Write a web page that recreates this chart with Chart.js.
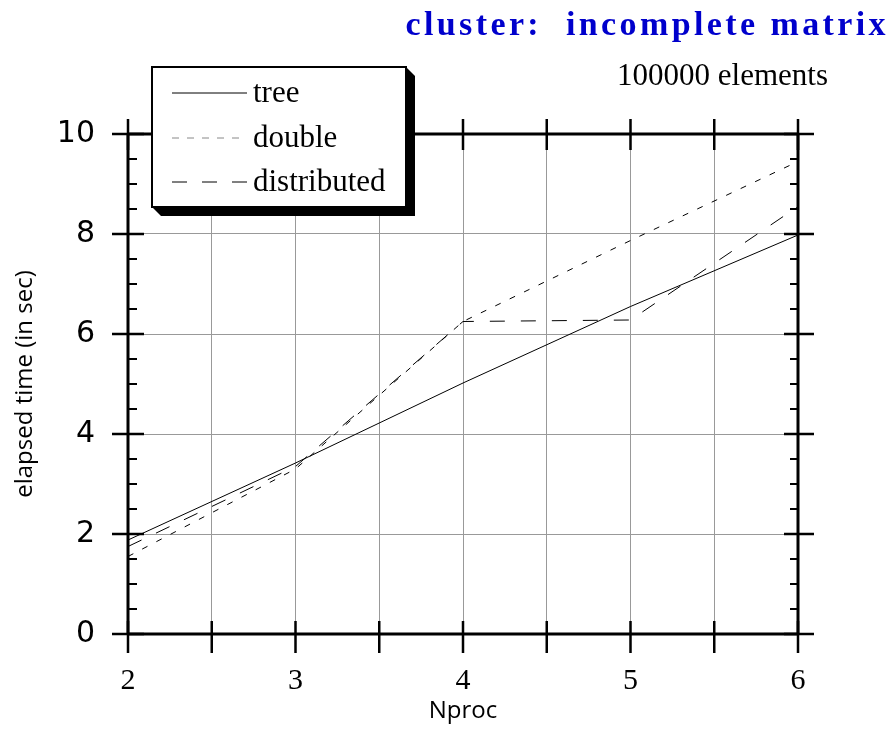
<!DOCTYPE html>
<html>
<head>
<meta charset="utf-8">
<script src="https://cdn.jsdelivr.net/npm/chart.js@4.4.1/dist/chart.umd.min.js"></script>
<style>
  html, body { margin: 0; padding: 0; background: #fff; }
  #wrap { width: 891px; height: 729px; }
</style>
</head>
<body>
<div id="wrap"><canvas id="timing" width="891" height="729"></canvas></div>
<script>
// Elapsed time per number of processors
const nproc = [2, 3, 4, 5, 6];
const treeTimes = [1.88, 3.42, 5.02, 6.55, 7.98];
const doubleTimes = [1.55, 3.3, 6.25, 7.87, 9.45];
const distributedTimes = [1.75, 3.35, 6.25, 6.28, 8.55];

const yTicks = [0, 2, 4, 6, 8, 10];
const xTicks = [2, 3, 4, 5, 6];

const seriesNames = ["tree", "double", "distributed"];
const seriesDash = [[], [6, 10], [15, 16]];

const titleText = "cluster:  incomplete matrix";
const subtitleText = "100000 elements";

const toPoints = (ys) => nproc.map((x, i) => ({ x: x, y: ys[i] }));

// Frame, tick marks, legend box and heading text
const decorations = {
  id: "decorations",
  afterDraw(chart) {
    const ctx = chart.ctx;
    const { left, right, top, bottom } = chart.chartArea;
    const xs = chart.scales.x;
    const ys = chart.scales.y;
    ctx.save();
    ctx.strokeStyle = "#000";
    ctx.lineCap = "butt";

    // frame
    ctx.lineWidth = 3;
    ctx.beginPath();
    ctx.moveTo(left, top);
    ctx.lineTo(right, top);
    ctx.moveTo(left, bottom);
    ctx.lineTo(right, bottom);
    ctx.moveTo(left, top - 1);
    ctx.lineTo(left, bottom + 1);
    ctx.moveTo(right, top - 1);
    ctx.lineTo(right, bottom + 1);
    ctx.stroke();

    // y ticks every 0.5, long ones on the labelled values
    for (let v = 0; v <= 10; v += 0.5) {
      const py = ys.getPixelForValue(v);
      const major = v % 2 === 0;
      ctx.lineWidth = major ? 2.5 : 2;
      ctx.beginPath();
      if (major) {
        ctx.moveTo(left - 16, py);
        ctx.lineTo(left + 16, py);
        ctx.moveTo(right - 14, py);
        ctx.lineTo(right + 16, py);
      } else {
        ctx.moveTo(left, py);
        ctx.lineTo(left + 9, py);
        ctx.moveTo(right - 8, py);
        ctx.lineTo(right, py);
      }
      ctx.stroke();
    }

    // x ticks every 0.5 on top and bottom
    ctx.lineWidth = 2.5;
    for (let v = 2; v <= 6; v += 0.5) {
      const px = xs.getPixelForValue(v);
      ctx.beginPath();
      ctx.moveTo(px, bottom - 13);
      ctx.lineTo(px, bottom + 19);
      ctx.moveTo(px, top - 15);
      ctx.lineTo(px, top + 16);
      ctx.stroke();
    }

    // legend box with shadow
    const bx0 = 152, by0 = 67, bx1 = 406, by1 = 207, sh = 9;
    ctx.fillStyle = "#000";
    ctx.beginPath();
    ctx.moveTo(bx1, by0);
    ctx.lineTo(bx1 + sh, by0 + sh);
    ctx.lineTo(bx1 + sh, by1 + sh);
    ctx.lineTo(bx0 + sh, by1 + sh);
    ctx.lineTo(bx0, by1);
    ctx.closePath();
    ctx.fill();
    ctx.fillStyle = "#fff";
    ctx.fillRect(bx0, by0, bx1 - bx0, by1 - by0);
    ctx.lineWidth = 2;
    ctx.strokeRect(bx0, by0, bx1 - bx0, by1 - by0);

    const rows = [93, 138, 182];
    ctx.font = "31px 'Liberation Serif'";
    ctx.textBaseline = "middle";
    ctx.textAlign = "left";
    seriesNames.forEach((name, i) => {
      ctx.beginPath();
      ctx.lineWidth = 1;
      ctx.strokeStyle = i === 1 ? "#888" : "#000";
      ctx.setLineDash(i === 1 ? [7, 8] : seriesDash[i].length ? [15, 15] : []);
      ctx.moveTo(172, rows[i]);
      ctx.lineTo(247, rows[i]);
      ctx.stroke();
      ctx.setLineDash([]);
      ctx.fillStyle = "#000";
      ctx.fillText(name, 253, rows[i] + 1);
    });

    // heading
    ctx.textBaseline = "alphabetic";
    ctx.textAlign = "right";
    ctx.fillStyle = "#0000cc";
    ctx.font = "bold 34px 'Liberation Serif'";
    ctx.letterSpacing = "3.4px";
    ctx.fillText(titleText, 889, 35);
    ctx.letterSpacing = "0px";
    ctx.fillStyle = "#000";
    ctx.font = "31px 'Liberation Serif'";
    ctx.fillText(subtitleText, 828, 85);
    ctx.restore();
  },
};

new Chart(document.getElementById("timing"), {
  type: "line",
  data: {
    datasets: [treeTimes, doubleTimes, distributedTimes].map((ys, i) => ({
      label: seriesNames[i],
      data: toPoints(ys),
      borderColor: "#000",
      borderWidth: 1,
      borderDash: seriesDash[i],
      pointRadius: 0,
      fill: false,
      tension: 0,
    })),
  },
  options: {
    responsive: false,
    animation: false,
    layout: {
      padding: { top: 134, right: 93, left: 0, bottom: 0 },
    },
    plugins: {
      legend: { display: false },
      tooltip: { enabled: false },
    },
    scales: {
      x: {
        type: "linear",
        min: 2,
        max: 6,
        afterFit: (scale) => {
          scale.height = 95;
        },
        border: { display: false },
        grid: {
          drawTicks: false,
          color: (c) =>
            c.tick && (c.tick.value === 2 || c.tick.value === 6) ? "rgba(0,0,0,0)" : "#999",
          lineWidth: 1,
        },
        ticks: {
          stepSize: 0.5,
          padding: 29,
          color: "#000",
          font: { family: "'Liberation Serif'", size: 30 },
          maxRotation: 0,
          autoSkip: false,
          callback: (v) => (xTicks.includes(v) ? String(v) : ""),
        },
        title: {
          display: true,
          text: "Nproc",
          color: "#000",
          font: { family: "'Open Sans'", size: 24 },
          padding: { top: 0, bottom: 3 },
        },
      },
      y: {
        min: 0,
        max: 10,
        afterFit: (scale) => {
          scale.width = 128;
        },
        border: { display: false },
        grid: {
          drawTicks: false,
          color: (c) =>
            c.tick && yTicks.includes(c.tick.value) && c.tick.value !== 0 && c.tick.value !== 10
              ? "#999"
              : "rgba(0,0,0,0)",
          lineWidth: 1,
        },
        ticks: {
          stepSize: 0.5,
          padding: 33,
          color: "#000",
          font: { family: "'DejaVu Sans'", size: 30 },
          autoSkip: false,
          callback: (v) => (yTicks.includes(v) ? String(v) : ""),
        },
        title: {
          display: true,
          text: "elapsed time (in sec)",
          color: "#000",
          font: { family: "'Open Sans'", size: 24 },
          padding: { top: 11, bottom: 0 },
        },
      },
    },
  },
  plugins: [decorations],
});
</script>
</body>
</html>
